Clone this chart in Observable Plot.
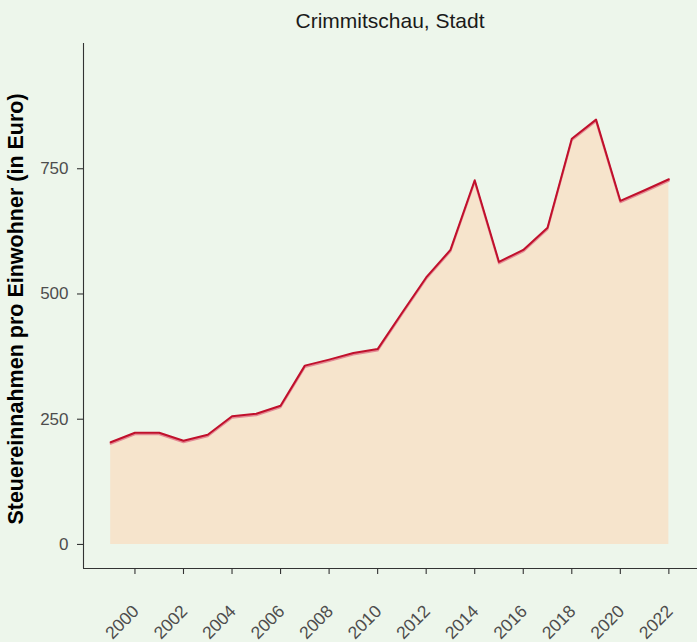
<!DOCTYPE html>
<html>
<head>
<meta charset="utf-8">
<script src="https://cdn.jsdelivr.net/npm/d3@7"></script>
<script src="https://cdn.jsdelivr.net/npm/@observablehq/plot@0.6"></script>
<style>
  html, body { margin: 0; padding: 0; background: #EDF6EB; }
  #chart { width: 697px; height: 642px; overflow: hidden; background: #EDF6EB; font-family: "Liberation Sans", Arial, Helvetica, sans-serif; }
  #title { height: 36px; box-sizing: border-box; padding-top: 10px; padding-left: 83px; text-align: center; font-size: 21px; line-height: 21px; color: #1a1a1a; }
  svg { display: block; }
</style>
</head>
<body>
<div id="chart">
  <div id="title">Crimmitschau, Stadt</div>
</div>
<script>
const years = [1999, 2000, 2001, 2002, 2003, 2004, 2005, 2006, 2007, 2008, 2009, 2010, 2011, 2012, 2013, 2014, 2015, 2016, 2017, 2018, 2019, 2020, 2021, 2022];
const values = [204, 223, 223, 207, 219, 256, 261, 277, 357, 369, 382, 390, 462, 533, 588, 727, 564, 588, 632, 810, 848, 686, 707, 729];
const xTicks = [2000, 2002, 2004, 2006, 2008, 2010, 2012, 2014, 2016, 2018, 2020, 2022];
const yTicks = [0, 250, 500, 750];
const yLabel = "Steuereinnahmen pro Einwohner (in Euro)";

const data = years.map((year, i) => ({year, value: values[i]}));
const xDomain = [1997.88, 2023.18];
const yDomain = [-48, 1000];
const font = "\"Liberation Sans\", Arial, Helvetica, sans-serif";

const chart = Plot.plot({
  width: 697,
  height: 606,
  marginTop: 7,
  marginBottom: 74,
  marginLeft: 83,
  marginRight: 0,
  style: {background: "transparent", fontFamily: font, overflow: "hidden"},
  x: {domain: xDomain, axis: null},
  y: {domain: yDomain, axis: null},
  marks: [
    Plot.areaY(data, {x: "year", y: "value", fill: "#F6E4CC"}),
    Plot.lineY(data, {x: "year", y: "value", stroke: "#E48A94", strokeWidth: 2, dy: 1.5}),
    Plot.lineY(data, {x: "year", y: "value", stroke: "#C0102C", strokeWidth: 2}),
    Plot.ruleX([xDomain[0]], {y1: yDomain[0], y2: yDomain[1], stroke: "#333333", strokeWidth: 1.1}),
    Plot.ruleY([yDomain[0]], {x1: xDomain[0], x2: xDomain[1], stroke: "#333333", strokeWidth: 1.1}),
    Plot.axisY(yTicks, {anchor: "left", tickSize: 6, tickPadding: 9, fontSize: 17, fill: "#4D4D4D", stroke: "#333333", strokeWidth: 1.1, label: null, tickFormat: d => String(d)}),
    Plot.axisX(xTicks, {anchor: "bottom", tickSize: 6, stroke: "#333333", strokeWidth: 1.1, label: null, tickFormat: () => ""}),
    Plot.text(xTicks, {x: d => d, y: yDomain[0], text: d => String(d), rotate: -45, textAnchor: "end", dx: 1, dy: 40, fontSize: 17.5, fill: "#4D4D4D"}),
    Plot.text([yLabel], {frameAnchor: "left", textAnchor: "middle", text: d => d, rotate: -90, dx: -67, dy: 3, fontSize: 21.5, fontWeight: "bold", fill: "#000000"})
  ]
});
document.getElementById("chart").appendChild(chart);
</script>
</body>
</html>
